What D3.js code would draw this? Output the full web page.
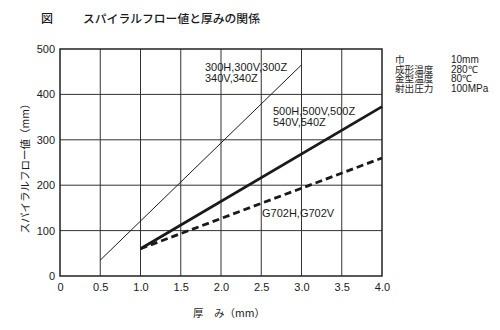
<!DOCTYPE html>
<html><head><meta charset="utf-8">
<script src="https://cdn.jsdelivr.net/npm/d3@7"></script>
<style>body{margin:0;background:#fff}svg{display:block}</style>
</head><body>
<script>
const xTicks = [0, 0.5, 1.0, 1.5, 2.0, 2.5, 3.0, 3.5, 4.0];
const xTickLabels = ["0","0.5","1.0","1.5","2.0","2.5","3.0","3.5","4.0"];
const yTicks = [0, 100, 200, 300, 400, 500];
const seriesNames = ["300H,300V,300Z|340V,340Z", "500H,500V,500Z|540V,540Z", "G702H,G702V"];
const thinX = [0.5, 3.0], thinY = [35, 465];
const thickX = [1.0, 4.0], thickY = [60, 373];
const dashX = [1.0, 4.0], dashY = [60, 260];
const condLabels = ["巾", "成形温度", "金型温度", "射出圧力"];
const condValues = ["10mm", "280℃", "80℃", "100MPa"];

const W = 500, H = 330;
const svg = d3.select("body").append("svg").attr("width", W).attr("height", H);
const x = d3.scaleLinear().domain([0, 4]).range([60, 382]);
const y = d3.scaleLinear().domain([0, 500]).range([276, 49]);
const lat = "'Liberation Sans', Arial, sans-serif";
const jp = "'Noto Sans CJK JP', sans-serif";
const ink = "#1a1a1a";

// title
svg.append("text").attr("x", 41).attr("y", 23).attr("font-family", jp).attr("font-size", 12).attr("font-weight", 500).attr("fill", ink).text("図");
svg.append("text").attr("x", 83).attr("y", 23).attr("font-family", jp).attr("font-size", 11.8).attr("font-weight", 500).attr("fill", ink).text("スパイラルフロー値と厚みの関係");

// grid
const g = svg.append("g");
g.selectAll("line.v").data(xTicks.slice(1, -1)).join("line")
  .attr("x1", d => x(d)).attr("x2", d => x(d)).attr("y1", y(500)).attr("y2", y(0))
  .attr("stroke", "#333").attr("stroke-width", 1);
g.selectAll("line.h").data(yTicks.slice(1, -1)).join("line")
  .attr("x1", x(0)).attr("x2", x(4)).attr("y1", d => y(d)).attr("y2", d => y(d))
  .attr("stroke", "#333").attr("stroke-width", 1);
g.append("rect").attr("x", x(0)).attr("y", y(500)).attr("width", x(4) - x(0)).attr("height", y(0) - y(500))
  .attr("fill", "none").attr("stroke", "#222").attr("stroke-width", 1.5);

// axes (labels only)
const xa = d3.axisBottom(x).tickValues(xTicks).tickFormat((d, i) => xTickLabels[i]).tickSize(0).tickPadding(6);
svg.append("g").attr("transform", `translate(0,${y(0) + 1})`).call(xa)
  .call(s => s.select(".domain").remove())
  .selectAll("text").attr("font-family", lat).attr("font-size", 11).attr("fill", ink);
const ya = d3.axisLeft(y).tickValues(yTicks).tickSize(0).tickPadding(5);
svg.append("g").attr("transform", `translate(${x(0)},0)`).call(ya)
  .call(s => s.select(".domain").remove())
  .selectAll("text").attr("font-family", lat).attr("font-size", 11).attr("fill", ink);

// axis titles
svg.append("text").attr("x", 193).attr("y", 317).attr("font-family", jp).attr("font-size", 10.5).attr("fill", ink).text("厚　み（mm）");
svg.append("text").attr("transform", `translate(29,166) rotate(-90)`).attr("text-anchor", "middle")
  .attr("font-family", jp).attr("font-size", 10.5).attr("fill", ink).text("スパイラルフロー値（mm）");

// lines
const line = d3.line().x(d => x(d[0])).y(d => y(d[1]));
svg.append("path").datum(d3.zip(thinX, thinY)).attr("d", line).attr("fill", "none").attr("stroke", ink).attr("stroke-width", 1);
svg.append("path").datum(d3.zip(thickX, thickY)).attr("d", line).attr("fill", "none").attr("stroke", ink).attr("stroke-width", 2.8);
svg.append("path").datum(d3.zip(dashX, dashY)).attr("d", line).attr("fill", "none").attr("stroke", ink).attr("stroke-width", 2.8).attr("stroke-dasharray", "7,4");

// series annotations
const ann = [[seriesNames[0], 205, 71], [seriesNames[1], 273, 115], [seriesNames[2], 262, 217]];
ann.forEach(([t, ax, ay]) => {
  t.split("|").forEach((s, i) => {
    svg.append("text").attr("x", ax).attr("y", ay + i * 11).attr("font-family", lat).attr("font-size", 11).attr("fill", ink).text(s);
  });
});

// conditions
condLabels.forEach((t, i) => {
  svg.append("text").attr("x", 395).attr("y", 63 + i * 9.7).attr("font-family", jp).attr("font-size", 9.6).attr("fill", ink).text(t);
  svg.append("text").attr("x", 451).attr("y", 63 + i * 9.7).attr("font-family", lat).attr("font-size", 10).attr("fill", ink).text(condValues[i]);
});
</script>
</body></html>
